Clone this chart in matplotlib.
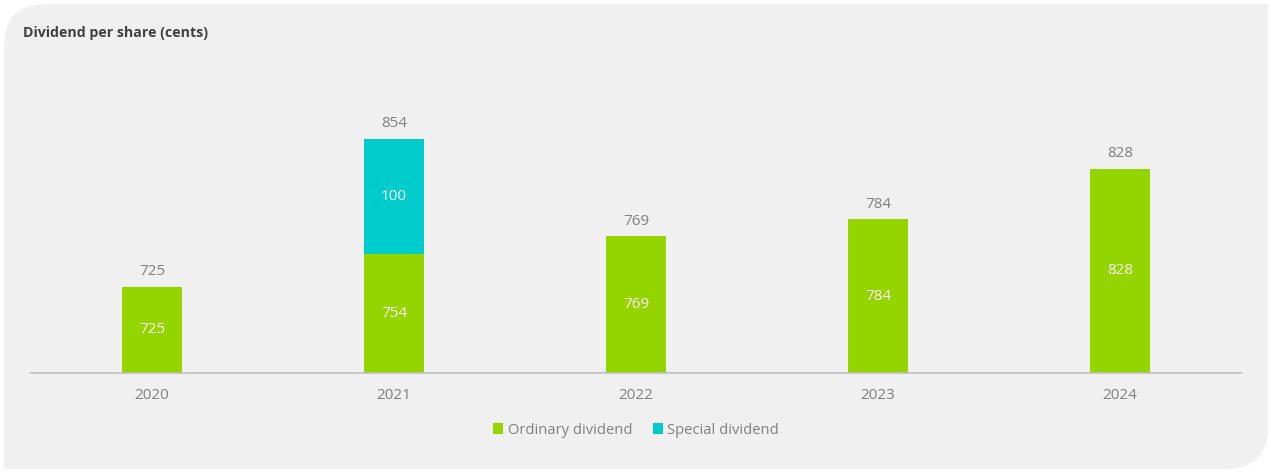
import numpy as np
import matplotlib.pyplot as plt
from matplotlib.path import Path
from matplotlib.patches import PathPatch

# Dados
anos = ['2020', '2021', '2022', '2023', '2024']
ordinario = [725, 754, 769, 784, 828]
especial = [0, 100, 0, 0, 0]
totais = [725, 854, 769, 784, 828]

verde = '#94d500'
ciano = '#00cccc'
cinza_texto = '#7f7f7f'

plt.rcParams['font.family'] = ['Open Sans', 'DejaVu Sans']

fig = plt.figure(figsize=(12.71, 4.72), dpi=100)
fig.patch.set_facecolor('white')

# Painel cinza com cantos arredondados (superior esquerdo e inferior direito)
W, H = 1271, 472
x0, x1, y0, y1, r = 4, 1268, 4, 469, 42
verts = [(x0 + r, H - y0), (x1, H - y0), (x1, H - y1 + r),
         (x1, H - y1), (x1 - r, H - y1),
         (x0, H - y1), (x0, H - y0 - r),
         (x0, H - y0), (x0 + r, H - y0)]
codes = [Path.MOVETO, Path.LINETO, Path.LINETO,
         Path.CURVE3, Path.CURVE3,
         Path.LINETO, Path.LINETO,
         Path.CURVE3, Path.CURVE3]
verts = [(vx / W, vy / H) for vx, vy in verts]
painel = PathPatch(Path(verts, codes), transform=fig.transFigure,
                   facecolor='#f0f0f0', edgecolor='none', zorder=-10)
fig.patches.append(painel)

fig.text(23 / W, 1 - 33 / H, 'Dividend per share (cents)', fontsize=10.2,
         fontweight='bold', color='#404040', va='center', ha='left')

ax = fig.add_axes([31 / W, 99 / H, 1210 / W, 300 / H])
ax.set_facecolor('none')
ax.set_zorder(1)

x = np.arange(len(anos))
largura = 0.245
ax.bar(x, ordinario, largura, bottom=0, color=verde, label='Ordinary dividend', zorder=2)
ax.bar(x, especial, largura, bottom=ordinario, color=ciano, label='Special dividend', zorder=2)

ax.set_xlim(-0.5, len(anos) - 0.5)
ax.set_ylim(650, 911.5)

for i in range(len(anos)):
    ax.annotate(str(totais[i]), (x[i], totais[i]), xytext=(0, 15),
                textcoords='offset pixels', ha='center', va='center',
                fontsize=11, color=cinza_texto)
    ax.text(x[i], (650 + ordinario[i]) / 2, str(ordinario[i]), ha='center',
            va='center', fontsize=11, color='white', zorder=3)
    if especial[i] > 0:
        ax.text(x[i], ordinario[i] + especial[i] / 2, str(especial[i]),
                ha='center', va='center', fontsize=11, color='white', zorder=3)

for s in ['top', 'right', 'left']:
    ax.spines[s].set_visible(False)
ax.spines['bottom'].set_color('#bfbfbf')
ax.spines['bottom'].set_linewidth(1.2)
ax.set_yticks([])
ax.set_xticks(x)
ax.set_xticklabels(anos, fontsize=11, color=cinza_texto)
ax.tick_params(axis='x', length=0, pad=11)

leg = ax.legend(loc='center', bbox_to_anchor=(0.5, -0.19), ncol=2, frameon=False,
                fontsize=10.6, handlelength=0.7, handleheight=0.7, handletextpad=0.3,
                columnspacing=1.4)
for t in leg.get_texts():
    t.set_color(cinza_texto)

fig.savefig('out.png', dpi=100, facecolor='white')
